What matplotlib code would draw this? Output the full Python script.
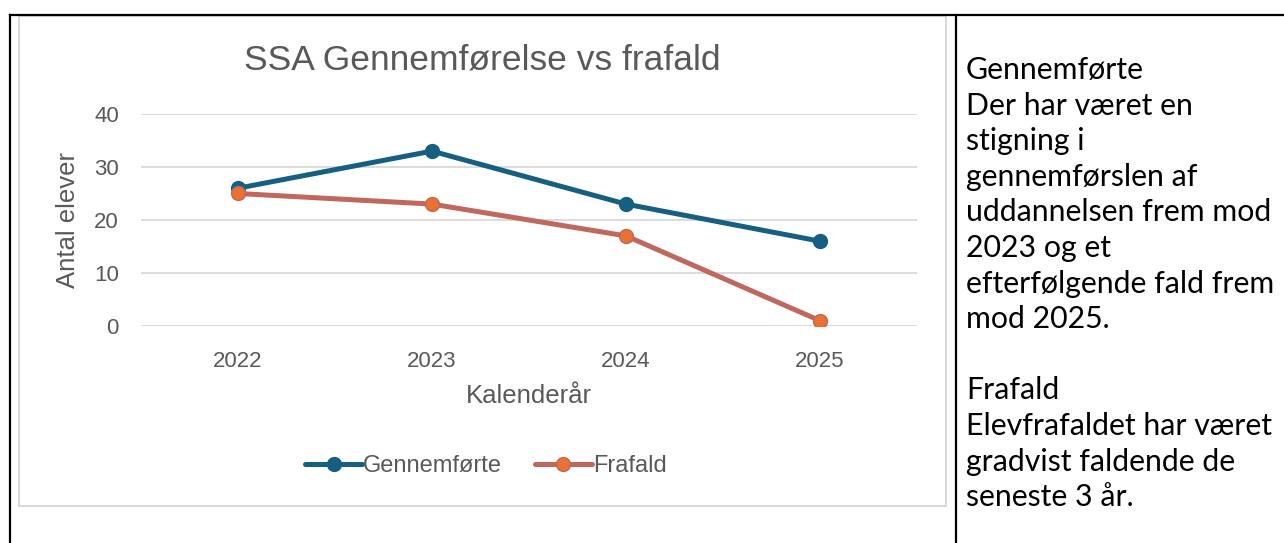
import matplotlib
matplotlib.use("Agg")
import matplotlib.pyplot as plt
from matplotlib.lines import Line2D
from matplotlib.patches import Rectangle

years = ["2022", "2023", "2024", "2025"]
gennemforte = [26, 33, 23, 16]
frafald = [25, 23, 17, 1]
y_ticks = [0, 10, 20, 30, 40]

side_lines = [
    "Gennemførte",
    "Der har været en",
    "stigning i",
    "gennemførslen af",
    "uddannelsen frem mod",
    "2023 og et",
    "efterfølgende fald frem",
    "mod 2025.",
    "",
    "Frafald",
    "Elevfrafaldet har været",
    "gradvist faldende de",
    "seneste 3 år.",
]

W, H = 1284, 543
fig = plt.figure(figsize=(W / 100, H / 100), dpi=100)
grey = "#595959"
blue = "#156082"
red_line = "#C0675E"
orange = "#E97132"
font = ["Liberation Sans", "DejaVu Sans"]

# table borders
fig.add_artist(Line2D([10 / W, 1], [1 - 15 / H, 1 - 15 / H], color="black", lw=1.6))
fig.add_artist(Line2D([10 / W, 10 / W], [0, 1 - 15 / H], color="black", lw=1.6))
fig.add_artist(Line2D([956 / W, 956 / W], [0, 1 - 15 / H], color="black", lw=1.6))
# chart frame
fig.add_artist(Rectangle((19 / W, 1 - 506 / H), (946 - 19) / W, (506 - 16) / H,
                         fill=False, edgecolor="#D9D9D9", lw=1.5))

ax = fig.add_axes([141 / W, 1 - 326 / H, (917 - 141) / W, (326 - 114) / H])
x = list(range(len(years)))
ax.plot(x, gennemforte, color=blue, lw=3.6, marker="o", ms=10,
        mfc=blue, mec=blue, label="Gennemførte", solid_capstyle="round", zorder=3)
ax.plot(x, frafald, color=red_line, lw=3.6, marker="o", ms=10,
        mfc=orange, mec=red_line, mew=1, label="Frafald", solid_capstyle="round", zorder=3)
ax.set_xlim(-0.5, len(years) - 0.5)
ax.set_ylim(0, 40)
ax.set_yticks(y_ticks)
ax.set_xticks(x)
ax.set_xticklabels(years)
ax.grid(axis="y", color="#D9D9D9", lw=1.3)
ax.set_axisbelow(True)
for s in ax.spines.values():
    s.set_visible(False)
ax.tick_params(length=0, labelsize=16, colors=grey)
ax.tick_params(axis="y", pad=16)
ax.tick_params(axis="x", pad=18)
for lab in ax.get_xticklabels() + ax.get_yticklabels():
    lab.set_family(font)

fig.text(482 / W, 1 - 60 / H, "SSA Gennemførelse vs frafald", ha="center", va="center",
         fontsize=25.5, color=grey, family=font)
fig.text(68 / W, 1 - 220 / H, "Antal elever", ha="center", va="center", rotation=90,
         fontsize=18.5, color=grey, family=font)
fig.text(529 / W, 1 - 396 / H, "Kalenderår", ha="center", va="center",
         fontsize=18.5, color=grey, family=font)

leg = fig.legend(loc="center", bbox_to_anchor=(486 / W, 1 - 466 / H), ncol=2, frameon=False,
                 prop={"family": font, "size": 17}, handlelength=2.4, handletextpad=0.05,
                 columnspacing=1.4, labelcolor=grey)

y0 = 70
step = 35.6
for i, txt in enumerate(side_lines):
    if not txt:
        continue
    fig.text(966 / W, 1 - (y0 + i * step) / H, txt, ha="left", va="center",
             fontsize=21.8, color="black", family=["Lato", "DejaVu Sans"])

fig.savefig("out.png", dpi=100)
